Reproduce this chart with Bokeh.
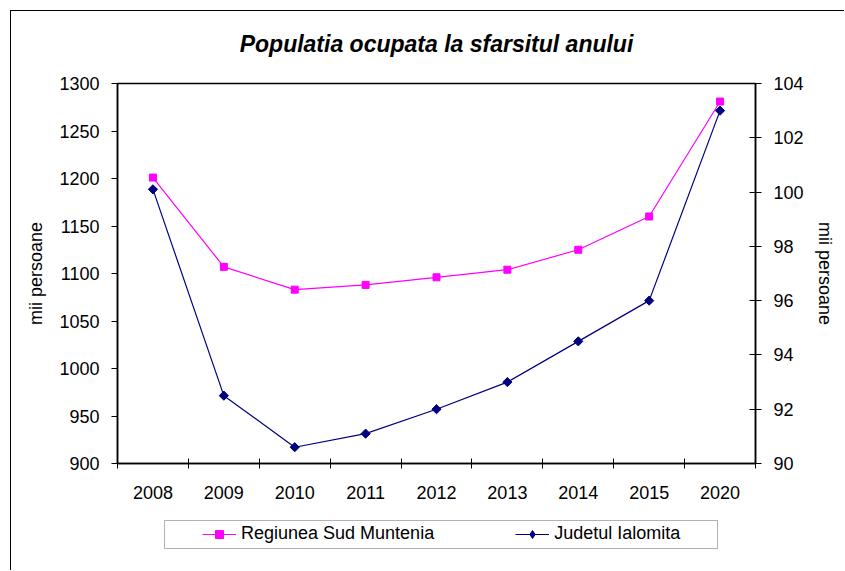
from bokeh.plotting import figure
from bokeh.layouts import column
from bokeh.models import (LinearAxis, Range1d, FixedTicker, Legend, LegendItem,
                          BoxAnnotation)
from bokeh.embed import file_html
from bokeh.resources import INLINE

years = ["2008", "2009", "2010", "2011", "2012", "2013", "2014", "2015", "2020"]
sud_muntenia = [1201, 1107, 1083, 1088, 1096, 1104, 1125, 1160, 1281]
ialomita = [100.1, 92.5, 90.6, 91.1, 92.0, 93.0, 94.5, 96.0, 103.0]
left_ticks = [900, 950, 1000, 1050, 1100, 1150, 1200, 1250, 1300]
right_ticks = [90, 92, 94, 96, 98, 100, 102, 104]
series_names = ["Regiunea Sud Muntenia", "Judetul Ialomita"]
chart_title = "Populatia ocupata la sfarsitul anului"
axis_title = "mii persoane"

FONT = "Liberation Sans"
PINK = "#FF00FF"
NAVY = "#000080"
W = 833
BORDERS = dict(min_border_left=106, min_border_right=89)

xs = [i + 0.5 for i in range(len(years))]

# title strip
t = figure(width=W, height=64, output_backend="svg", toolbar_location=None,
           x_axis_location=None, y_axis_location=None,
           x_range=Range1d(0, 1), y_range=Range1d(0, 1),
           min_border_top=0, min_border_bottom=0, **BORDERS)
t.grid.visible = False
t.outline_line_color = None
t.title.text = chart_title
t.title.align = "center"
t.title.text_font = FONT
t.title.text_font_size = "23px"
t.title.text_font_style = "bold italic"
t.title.text_color = "black"
t.title.standoff = 34

# main chart
p = figure(width=W, height=436, output_backend="svg", toolbar_location=None,
           x_range=Range1d(0, len(years)), y_range=Range1d(900, 1300),
           min_border_top=8, min_border_bottom=48, **BORDERS)
p.extra_y_ranges = {"right": Range1d(90, 104)}
p.xgrid.visible = False
p.ygrid.visible = False
p.outline_line_color = "black"
p.outline_line_width = 1.5
p.outline_line_alpha = 1

# x axis: labels centred on categories, ticks between them
xa = p.xaxis[0]
xa.ticker = FixedTicker(ticks=xs, minor_ticks=list(range(len(years) + 1)))
xa.major_label_overrides = {x: y for x, y in zip(xs, years)}
xa.major_tick_out = 0
xa.major_tick_in = 0
xa.minor_tick_out = 5
xa.minor_tick_in = 5
xa.minor_tick_line_color = "black"
xa.axis_line_width = 1.5
xa.major_label_standoff = 17
xa.major_label_text_font = FONT
xa.major_label_text_font_size = "18px"
xa.major_label_text_color = "black"

# left axis
ya = p.yaxis[0]
ya.ticker = FixedTicker(ticks=left_ticks)
ya.minor_tick_line_color = None
ya.major_tick_out = 6
ya.major_tick_in = 0
ya.axis_line_width = 1.5
ya.major_label_standoff = 12
ya.major_label_text_font = FONT
ya.major_label_text_font_size = "18px"
ya.major_label_text_color = "black"
ya.axis_label = axis_title
ya.axis_label_text_font = FONT
ya.axis_label_text_font_size = "18px"
ya.axis_label_text_font_style = "normal"
ya.axis_label_text_color = "black"
ya.axis_label_standoff = 10

# right axis
ra = LinearAxis(y_range_name="right", ticker=FixedTicker(ticks=right_ticks))
ra.minor_tick_line_color = None
ra.major_tick_out = 6
ra.major_tick_in = 6
ra.axis_line_width = 1.5
ra.major_label_standoff = 12
ra.major_label_text_font = FONT
ra.major_label_text_font_size = "18px"
ra.major_label_text_color = "black"
ra.axis_label = axis_title
ra.axis_label_text_font = FONT
ra.axis_label_text_font_size = "18px"
ra.axis_label_text_font_style = "normal"
ra.axis_label_text_color = "black"
ra.axis_label_standoff = 8
p.add_layout(ra, "right")

p.line(xs, sud_muntenia, line_color=PINK, line_width=1.2)
p.scatter(xs, sud_muntenia, marker="square", size=7, fill_color=PINK,
          line_color=PINK)
p.line(xs, ialomita, line_color=NAVY, line_width=1.2, y_range_name="right")
p.scatter(xs, ialomita, marker="square", angle=0.785, size=6.5,
          fill_color=NAVY, line_color=NAVY, y_range_name="right")

# legend strip below the chart (its frame lines up with the chart's frame)
q = figure(width=W, height=59, output_backend="svg", toolbar_location=None,
           x_axis_location=None, y_axis_location=None,
           x_range=Range1d(0, 1), y_range=Range1d(0, 1),
           min_border_top=0, min_border_bottom=0, **BORDERS)
q.grid.visible = False
q.outline_line_color = None

# legend-only renderers: their single point lies outside the strip's ranges
ql1 = q.line(xs[:1], sud_muntenia[:1], line_color=PINK, line_width=1.2)
qm1 = q.scatter(xs[:1], sud_muntenia[:1], marker="square", size=7,
                fill_color=PINK, line_color=PINK)
ql2 = q.line(xs[:1], ialomita[:1], line_color=NAVY, line_width=1.2)
qm2 = q.scatter(xs[:1], ialomita[:1], marker="diamond", size=10,
                fill_color=NAVY, line_color=NAVY)

box = BoxAnnotation(left=47, right=600, bottom=22, top=50,
                    left_units="screen", right_units="screen",
                    bottom_units="screen", top_units="screen",
                    fill_alpha=0, line_color="black", line_width=1)
q.add_layout(box)

legend = Legend(items=[LegendItem(label=series_names[0], renderers=[ql1, qm1]),
                       LegendItem(label=series_names[1], renderers=[ql2, qm2])],
                orientation="horizontal", location=(85, 26), padding=0, margin=0,
                spacing=81, glyph_width=34, glyph_height=20, label_height=20,
                label_standoff=5, border_line_alpha=0, background_fill_alpha=0,
                label_text_font=FONT, label_text_font_size="18px",
                label_text_color="black")
q.add_layout(legend, "center")

layout = column(t, p, q, spacing=0)
layout.margin = (10, 0, 0, 10)
layout.styles = {"border-left": "1px solid black", "border-top": "1px solid black"}

open("out.html", "w").write(file_html(layout, INLINE))
